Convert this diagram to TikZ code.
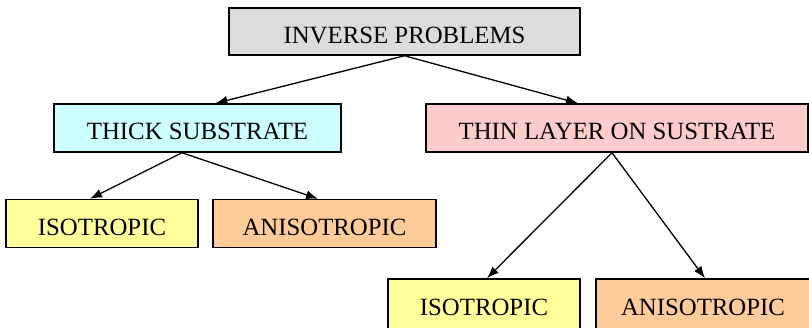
\documentclass[tikz,border=0pt]{standalone}
\usepackage{fontspec}
\setmainfont{Liberation Serif}
\usetikzlibrary{arrows.meta}
\definecolor{cgray}{HTML}{DCDCDC}
\definecolor{ccyan}{HTML}{CCFFFF}
\definecolor{cpink}{HTML}{FFCCCC}
\definecolor{cyellow}{HTML}{FFFF99}
\definecolor{corange}{HTML}{FFCC99}
\tikzset{
  box/.style={draw=black, line width=1.5pt, rectangle, inner sep=0pt,
    font=\fontsize{24.8}{28}\selectfont, text height=23pt, text depth=0pt},
  conn/.style={line width=1.3pt, -{Latex[length=12pt,width=9pt]}}
}
\begin{document}
\begin{tikzpicture}[x=1pt,y=-1pt]
\useasboundingbox (0,0) rectangle (809,327);
\node[box, fill=cgray, minimum width=351pt, minimum height=47pt] (inv) at (404.5,31.5) {INVERSE PROBLEMS};
\node[box, fill=ccyan, minimum width=287pt, minimum height=48pt] (thick) at (197.5,128) {THICK SUBSTRATE};
\node[box, fill=cpink, minimum width=382pt, minimum height=48pt] (thin) at (617,128) {THIN LAYER ON SUSTRATE};
\node[box, fill=cyellow, minimum width=192pt, minimum height=48pt] (isoL) at (102,223.5) {ISOTROPIC};
\node[box, fill=corange, minimum width=223pt, minimum height=48pt] (anisoL) at (324.5,223.5) {ANISOTROPIC};
\node[box, fill=cyellow, minimum width=192pt, minimum height=50pt] (isoR) at (484,304) {ISOTROPIC};
\node[box, fill=corange, minimum width=214pt, minimum height=50pt] (anisoR) at (703,304) {ANISOTROPIC};
\draw[conn] (inv.south) -- ([xshift=18pt]thick.north);
\draw[conn] (inv.south) -- ([xshift=-39pt]thin.north);
\draw[conn] ([xshift=-15.5pt]thick.south) -- ([xshift=-12pt]isoL.north);
\draw[conn] ([xshift=-15.5pt]thick.south) -- ([xshift=-6.5pt]anisoL.north);
\draw[conn] ([xshift=-5pt]thin.south) -- ([xshift=3pt]isoR.north);
\draw[conn] ([xshift=-5pt]thin.south) -- ([xshift=2pt]anisoR.north);
\end{tikzpicture}
\end{document}
